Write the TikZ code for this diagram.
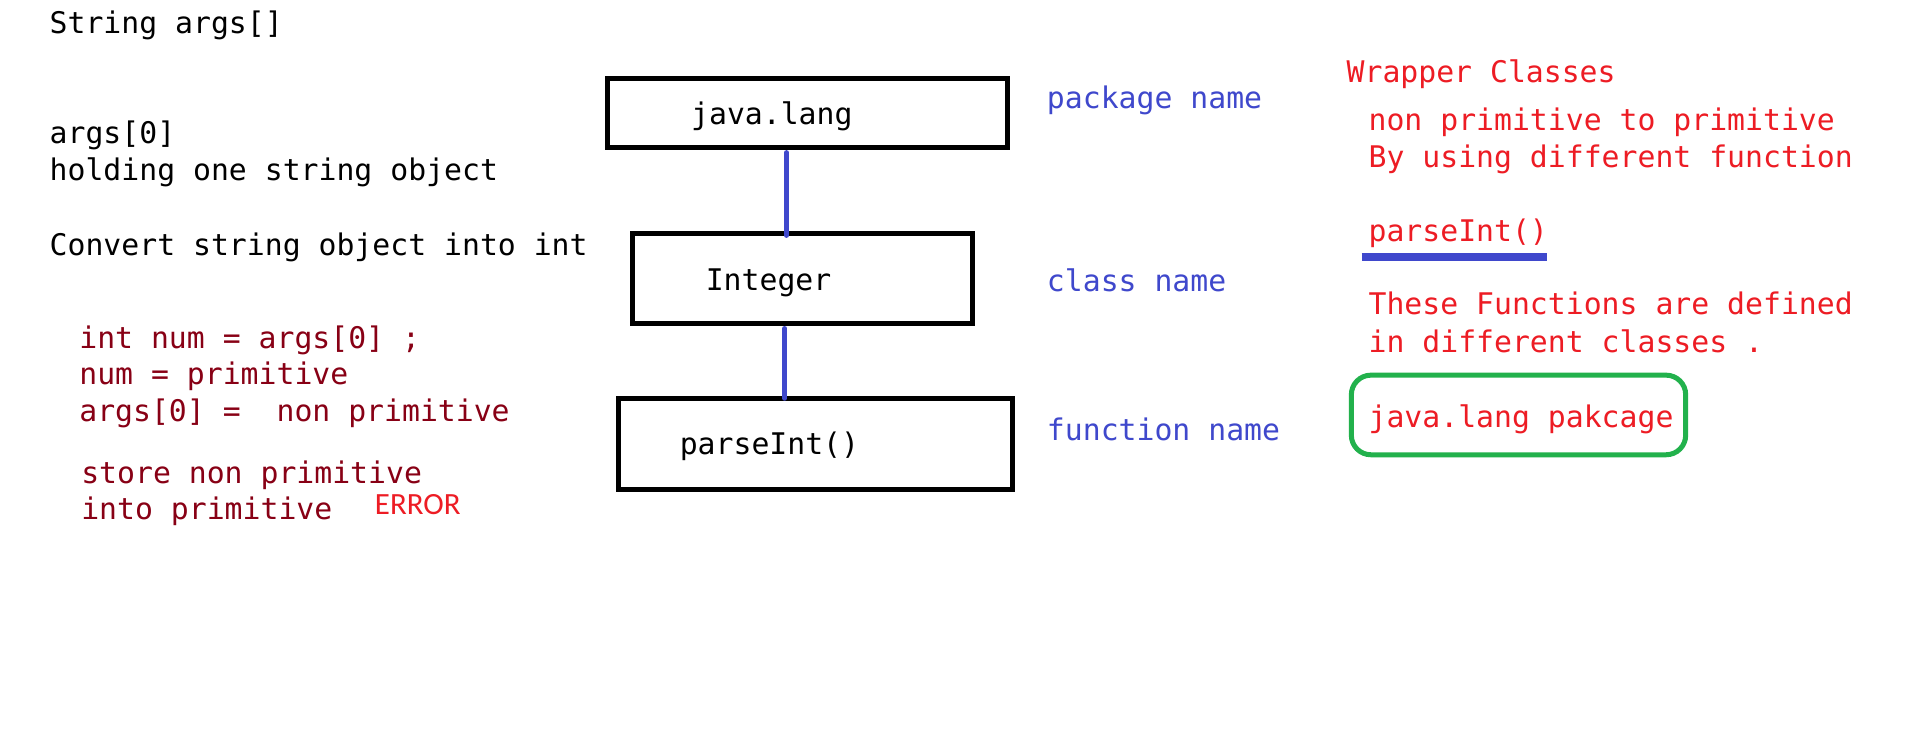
\documentclass[tikz,border=0pt]{standalone}
\usepackage{fontspec}
\setmonofont{DejaVu Sans Mono}
\newfontfamily\errfont{Carlito}
\definecolor{dred}{RGB}{136,0,21}
\definecolor{pred}{RGB}{237,28,36}
\definecolor{pblue}{RGB}{63,72,204}
\definecolor{pgreen}{RGB}{34,177,76}
\begin{document}
\begin{tikzpicture}[x=1pt,y=-1pt,
  txt/.style={anchor=base west, inner sep=0pt, font=\ttfamily\fontsize{24.4}{29}\selectfont},
  blk/.style={txt, text=black},
  drk/.style={txt, text=dred},
  rd/.style={txt, text=pred},
  bl/.style={txt, text=pblue},
  box/.style={draw=black, line width=4.1pt, inner sep=0pt, anchor=north west},
  conn/.style={draw=pblue, line width=3.8pt, line cap=round},
  gbox/.style={draw=pgreen, line width=4.1pt, rounded corners=16pt, inner sep=0pt, anchor=north west}]
\useasboundingbox[fill=white] (0,0) rectangle (1568,601);

% left black text
\node[blk] (s1) at (40.5,27.3) {String args[]};
\node[blk] (s2) at (40.5,117.4) {args[0]};
\node[blk] (s3) at (40.5,147.5) {holding one string object};
\node[blk] (s4) at (40.5,209) {Convert string object into int};

% dark red text
\node[drk] (d1) at (64.8,285.4) {int num = args[0] ;};
\node[drk] (d2) at (64.8,315.4) {num = primitive};
\node[drk] (d3) at (64.8,345.4) {args[0] = \ non primitive};
\node[drk] (d4) at (66.4,396) {store non primitive};
\node[drk] (d5) at (66.4,425.5) {into primitive};
\node[anchor=base west, inner sep=0pt, text=pred, font=\errfont\fontsize{25.3}{30}\selectfont] (err) at (307,421.9) {ERROR};

% boxes
\node[box, minimum width=327.8pt, minimum height=56.5pt] (java) at (495.6,62.3) {};
\node[box, minimum width=278.1pt, minimum height=73.9pt] (integer) at (516.4,189) {};
\node[box, minimum width=322.2pt, minimum height=74.3pt] (parse) at (505,324.4) {};

\node[blk] (tjava) at (566,102.4) {java.lang};
\node[blk] (tint) at (578,237.6) {Integer};
\node[blk] (tparse) at (556.7,372.7) {parseInt()};

% connectors
\coordinate (c1) at (644.2,0);
\coordinate (c2) at (642.8,0);
\draw[conn, shorten <=2pt, shorten >=-4pt] (java.south -| c1) -- (integer.north -| c1);
\draw[conn, shorten <=2pt, shorten >=-2pt] (integer.south -| c2) -- (parse.north -| c2);

% blue labels
\node[bl] (lp) at (857.5,88.7) {package name};
\node[bl] (lc) at (857.5,239) {class name};
\node[bl] (lf) at (857.5,360.5) {function name};

% right red text
\node[rd] (r1) at (1103,67.7) {Wrapper Classes};
\node[rd] (r2) at (1121,107) {non primitive to primitive};
\node[rd] (r3) at (1121,137.4) {By using different function};
\node[rd] (r4) at (1121,198) {parseInt()};
\coordinate (u1) at (1115.5,210.5);
\coordinate (u2) at (1267,210.5);
\draw[draw=pblue, line width=6pt] (u1) -- (u2);
\node[rd] (r5) at (1121,258) {These Functions are defined};
\node[rd] (r6) at (1121,289) {in different classes .};

\node[gbox, minimum width=273.9pt, minimum height=65.2pt] (green) at (1105,305.3) {};
\node[rd] (r7) at (1121,350) {java.lang pakcage};
\end{tikzpicture}
\end{document}
